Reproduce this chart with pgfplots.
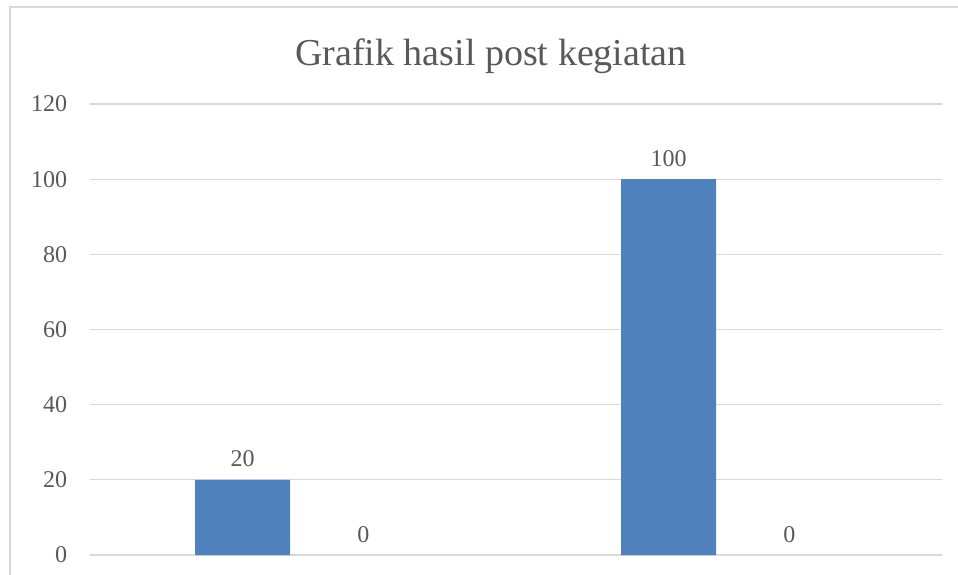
\documentclass[border=0pt]{standalone}
\usepackage{pgfplots}
\pgfplotsset{compat=1.18}
\usepackage{fontspec}
\setmainfont{Liberation Serif}
\definecolor{barblue}{HTML}{4F81BD}
\definecolor{txtgray}{HTML}{595959}
\definecolor{gridgray}{HTML}{D9D9D9}
\begin{document}
\begin{tikzpicture}
\useasboundingbox (0,0) rectangle (718.5pt,-431.25pt);
\fill[white] (0,0) rectangle (718.5pt,-431.25pt);
\draw[gridgray, line width=1.5pt] (7.5pt,-440pt) -- (7.5pt,-5.25pt) -- (730pt,-5.25pt);
\node[txtgray, font=\fontsize{28.5}{32}\selectfont] at (368.25pt,-42pt) {Grafik hasil post kegiatan};
\begin{axis}[
  at={(67.5pt,-416.25pt)}, anchor=south west,
  scale only axis, width=639pt, height=338.25pt,
  xmin=-0.5, xmax=1.5, ymin=0, ymax=120,
  xtick=\empty, ytick={0,20,40,60,80,100,120},
  axis line style={draw=none},
  ymajorgrids, grid style={gridgray, line width=0.9pt},
  major tick length=0pt,
  /pgf/number format/assume math mode=true,
  yticklabel style={txtgray, font=\fontsize{18}{20}\selectfont, anchor=east, inner sep=0pt, xshift=-17pt},
  ybar, bar width=0.223,
  clip=false,
  nodes near coords,
  every node near coord/.append style={txtgray, font=\fontsize{18}{20}\selectfont, yshift=6pt},
]
\addplot[fill=barblue, draw=none, bar shift=-0.142] coordinates {(0,20) (1,100)};
\addplot[fill=none, draw=none, bar shift=0.142] coordinates {(0,0) (1,0)};
\end{axis}
\end{tikzpicture}
\end{document}
